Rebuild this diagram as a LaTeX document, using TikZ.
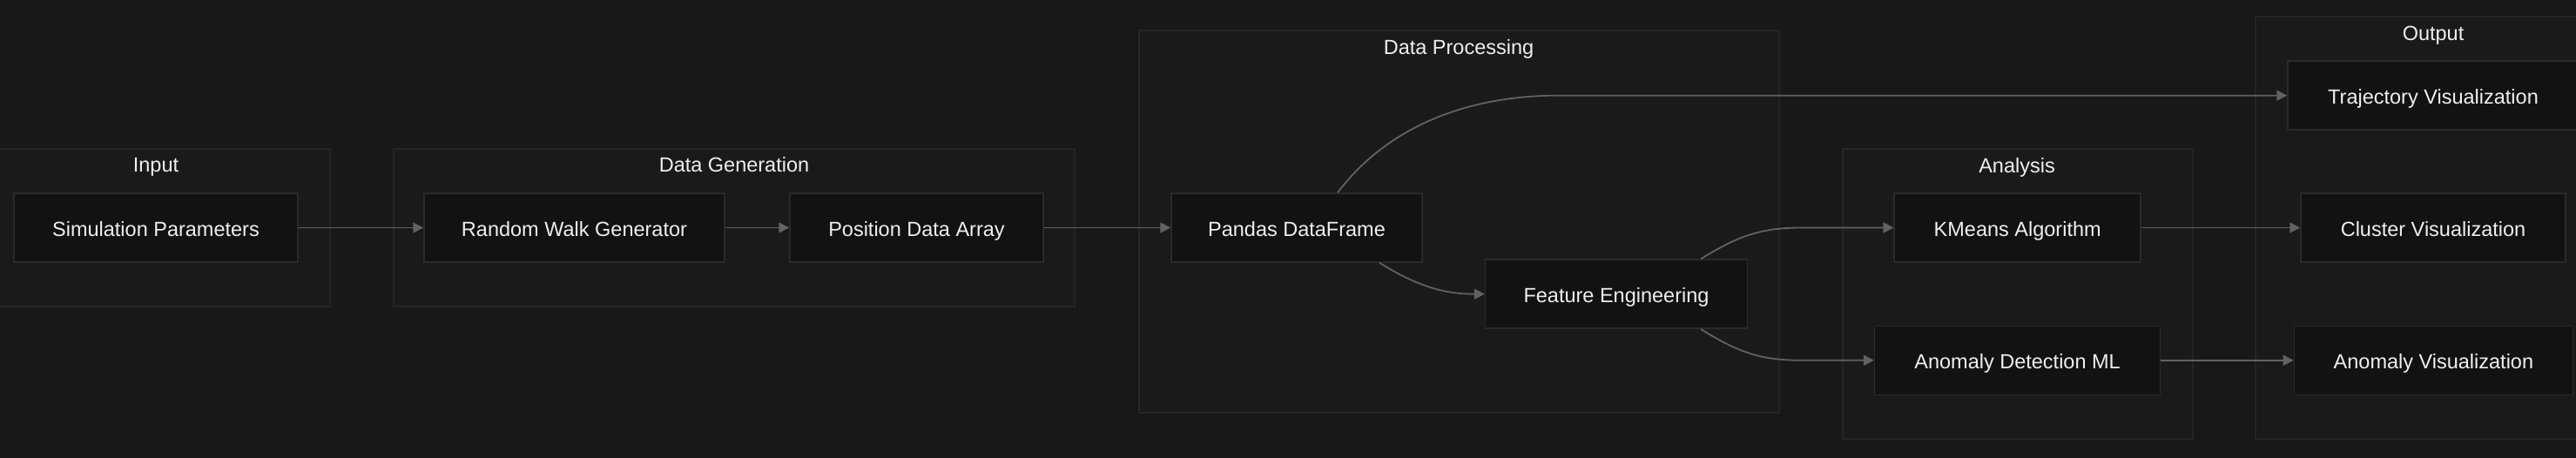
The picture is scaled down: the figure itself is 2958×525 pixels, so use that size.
\documentclass[tikz,border=0pt]{standalone}
\usepackage{fontspec}
\setmainfont{Liberation Sans}
\usetikzlibrary{arrows.meta}
\usetikzlibrary{calc}

\definecolor{canvas}{HTML}{181818}
\definecolor{groupfill}{HTML}{1A1A1A}
\definecolor{groupline}{HTML}{252525}
\definecolor{nodefill}{HTML}{121212}
\definecolor{nodeline}{HTML}{2A2A2A}
\definecolor{flowline}{HTML}{626262}
\definecolor{labeltext}{HTML}{EFEFEF}

\begin{document}
\begin{tikzpicture}[x=1pt,y=-1pt,
	>={Triangle[length=12pt,width=12pt]},
	block/.style={draw=nodeline,fill=nodefill,line width=1.5pt,text=labeltext,
		font=\fontsize{23.5}{28}\selectfont,minimum height=79pt,inner sep=0pt,
		text height=25pt,text depth=5pt},
	group/.style={draw=groupline,fill=groupfill,line width=1.5pt},
	grouptitle/.style={anchor=base,text=labeltext,font=\fontsize{23.5}{28}\selectfont},
	flow/.style={->,draw=flowline,line width=1.8pt}]
	%\draw[style=help lines,gray!50] (0,0) grid[step=100] (2958,525);
	\useasboundingbox (0,0) rectangle (2958,525);
	\fill[canvas] (-30,-30) rectangle (3000,560);

	\draw[group] (-21,171) rectangle (379,352);
	\draw[group] (452,171) rectangle (1234,352);
	\draw[group] (1308,35) rectangle (2043,474);
	\draw[group] (2116,171) rectangle (2518,504);
	\draw[group] (2590,19) rectangle (2998,504);

	\node[grouptitle] at (179,197) (t_in) {Input};
	\node[grouptitle] at (843,197) (t_gen) {Data Generation};
	\node[grouptitle] at (1675,62) (t_proc) {Data Processing};
	\node[grouptitle] at (2316,198) (t_ana) {Analysis};
	\node[grouptitle] at (2794,46) (t_out) {Output};

	\node[block,minimum width=326pt] at (179,261.5) (sim) {Simulation Parameters};
	\node[block,minimum width=345pt] at (659.5,261.5) (rwg) {Random Walk Generator};
	\node[block,minimum width=291pt] at (1052.5,261.5) (pda) {Position Data Array};
	\node[block,minimum width=288pt] at (1489,261.5) (pdf) {Pandas DataFrame};
	\node[block,minimum width=301pt] at (1856,337.7) (feat) {Feature Engineering};
	\node[block,minimum width=283pt] at (2316.7,261.5) (kmeans) {KMeans Algorithm};
	\node[block,minimum width=328pt] at (2316.6,413.8) (anomd) {Anomaly Detection ML};
	\node[block,minimum width=334pt] at (2794,109.7) (traj) {Trajectory Visualization};
	\node[block,minimum width=304pt] at (2794,261.5) (clvis) {Cluster Visualization};
	\node[block,minimum width=320pt] at (2794.4,413.8) (anvis) {Anomaly Visualization};

	\draw[flow] (sim.east) -- (rwg.west);
	\draw[flow] (rwg.east) -- (pda.west);
	\draw[flow] (pda.east) -- (pdf.west);
	\draw[flow] (kmeans.east) -- (clvis.west);
	\draw[flow] (anomd.east) -- (anvis.west);

	\draw[flow] ($(pdf.north)+(47,0)$) .. controls +(54,-72) and +(-110,0) .. ($(traj.west)+(-837,0)$) -- (traj.west);
	\draw[flow] ($(pdf.south)+(95,0)$) .. controls +(45,28) and +(-45,0) .. (feat.west);
	\draw[flow] ($(feat.north)+(97,0)$) .. controls +(45,-28) and +(-45,0) .. ($(kmeans.west)+(-105,0)$) -- (kmeans.west);
	\draw[flow] ($(feat.south)+(97,0)$) .. controls +(45,28) and +(-45,0) .. ($(anomd.west)+(-83,0)$) -- (anomd.west);
\end{tikzpicture}
\end{document}
